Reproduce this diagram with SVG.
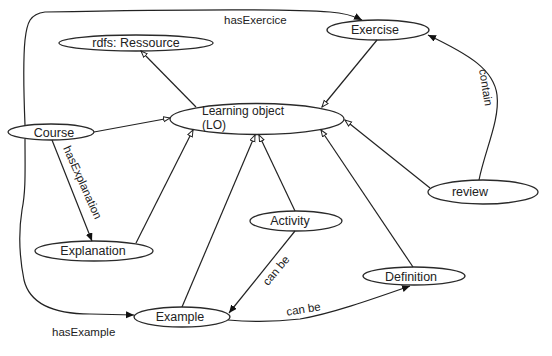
<svg xmlns="http://www.w3.org/2000/svg" width="552" height="356" viewBox="0 0 552 356">
<style>
.n ellipse{fill:#fff;stroke:#2a2a2a;stroke-width:1.3}
.n text{font-family:"Liberation Sans",Arial,sans-serif;font-size:12.5px;fill:#222;text-anchor:middle}
.e path{fill:none;stroke:#222;stroke-width:1.2}
.o{marker-end:url(#open)}
.f{marker-end:url(#filled)}
.lbl{font-family:"Liberation Sans",Arial,sans-serif;font-size:11.5px;fill:#222}
</style>
<defs>
<marker id="open" markerUnits="userSpaceOnUse" markerWidth="10" markerHeight="8" refX="7" refY="3" orient="auto">
<path d="M0.5,0.5 L7,3 L0.5,5.5 z" fill="#fff" stroke="#222" stroke-width="1"/>
</marker>
<marker id="filled" markerUnits="userSpaceOnUse" markerWidth="10" markerHeight="8" refX="8" refY="3.5" orient="auto">
<path d="M0,0 L8,3.5 L0,7 z" fill="#111"/>
</marker>
</defs>
<rect width="552" height="356" fill="#fff"/>
<g id="nodes" class="n">
<g id="rdfs"><ellipse cx="136" cy="43" rx="77" ry="8"/><text x="136" y="47">rdfs: Ressource</text></g>
<g id="exercise"><ellipse cx="378" cy="30" rx="51" ry="10"/><text x="375" y="34">Exercise</text></g>
<g id="lo"><ellipse cx="257" cy="119" rx="87" ry="15.5"/><text x="202" y="115" style="text-anchor:start;font-size:12px">Learning object</text><text x="202" y="129" style="text-anchor:start;font-size:12px">(LO)</text></g>
<g id="course"><ellipse cx="51" cy="132" rx="43" ry="8"/><text x="54" y="137">Course</text></g>
<g id="explanation"><ellipse cx="94" cy="251" rx="59" ry="10"/><text x="93" y="255">Explanation</text></g>
<g id="activity"><ellipse cx="296" cy="221" rx="46" ry="10"/><text x="290" y="225">Activity</text></g>
<g id="example"><ellipse cx="182" cy="317" rx="48" ry="10"/><text x="180" y="321">Example</text></g>
<g id="definition"><ellipse cx="414" cy="276" rx="51" ry="9"/><text x="411" y="281">Definition</text></g>
<g id="review"><ellipse cx="483" cy="192" rx="55" ry="12"/><text x="470" y="196">review</text></g>
</g>
<g id="connectors" class="e">
<path class="o" d="M196,107 L141,51"/>
<path class="o" d="M377,40 L322,107"/>
<path class="o" d="M94,132 L170,118"/>
<path class="o" d="M430,188 L345,120"/>
<path class="o" d="M413,267 L321,130"/>
<path class="o" d="M136,243 L193,130"/>
<path class="o" d="M182,307 L255,135"/>
<path class="o" d="M295,211 L259,135"/>
<path class="f" d="M295,231 L229,313"/>
<path class="f" d="M228,320 C250,322 275,322 300,319 C330,314 370,300 410,286"/>
<path class="f" d="M52,140 L92,241"/>
<path class="f" d="M25,125 C24,100 23,60 25,40 C27,22 30,14 45,12 C150,10 280,8 330,12 C345,13 354,16 362,20"/>
<path class="f" d="M25,139 C25,170 26,190 22,210 C18,235 20,260 24,280 C30,305 55,314 90,314 L134,315"/>
<path class="f" d="M479,180 C485,150 500,120 497,95 C494,70 470,55 428,35"/>
<text class="lbl" x="224" y="24">hasExercice</text>
<text class="lbl" x="52" y="336">hasExample</text>
<text class="lbl" x="482" y="88" text-anchor="middle" transform="rotate(81 482 88)">contain</text>
<text class="lbl" x="79" y="184" text-anchor="middle" transform="rotate(66 79 184)">hasExplanation</text>
<text class="lbl" x="279" y="273" text-anchor="middle" transform="rotate(-50 279 273)">can be</text>
<text class="lbl" x="304" y="313" text-anchor="middle" transform="rotate(-9 304 313)">can be</text>
</g>
</svg>
